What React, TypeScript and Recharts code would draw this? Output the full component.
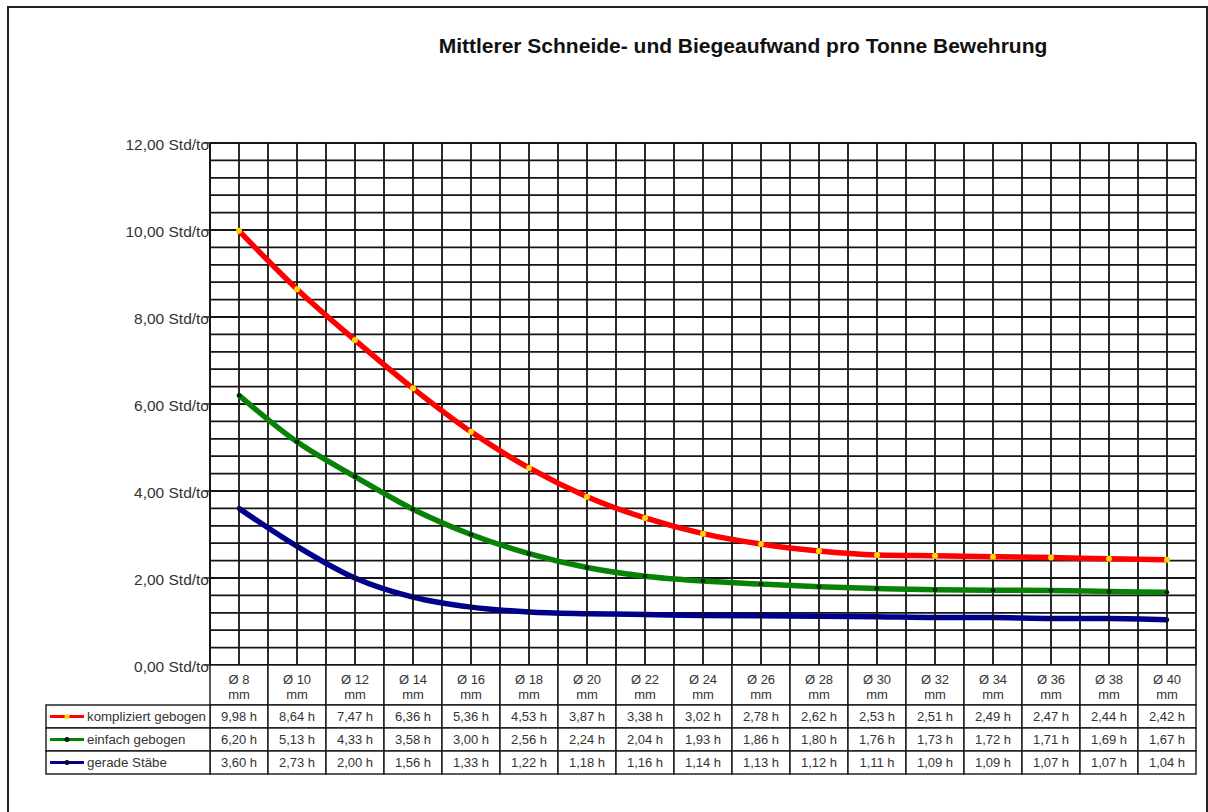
import React from "react";
import { LineChart, Line, XAxis, YAxis, CartesianGrid } from "recharts";

const categories = ["Ø 8", "Ø 10", "Ø 12", "Ø 14", "Ø 16", "Ø 18", "Ø 20", "Ø 22", "Ø 24", "Ø 26", "Ø 28", "Ø 30", "Ø 32", "Ø 34", "Ø 36", "Ø 38", "Ø 40"];
const kompliziert = [9.98, 8.64, 7.47, 6.36, 5.36, 4.53, 3.87, 3.38, 3.02, 2.78, 2.62, 2.53, 2.51, 2.49, 2.47, 2.44, 2.42];
const einfach = [6.2, 5.13, 4.33, 3.58, 3.0, 2.56, 2.24, 2.04, 1.93, 1.86, 1.8, 1.76, 1.73, 1.72, 1.71, 1.69, 1.67];
const gerade = [3.6, 2.73, 2.0, 1.56, 1.33, 1.22, 1.18, 1.16, 1.14, 1.13, 1.12, 1.11, 1.09, 1.09, 1.07, 1.07, 1.04];
const yTickLabels = ["0,00 Std/to", "2,00 Std/to", "4,00 Std/to", "6,00 Std/to", "8,00 Std/to", "10,00 Std/to", "12,00 Std/to"];
const seriesNames = ["kompliziert gebogen", "einfach gebogen", "gerade Stäbe"];
const unitLabel = "mm";
const title = "Mittlerer Schneide- und Biegeaufwand pro Tonne Bewehrung";

const seriesValues = [kompliziert, einfach, gerade];
const seriesColors = ["#ff0000", "#078207", "#00008a"];
const dotColors = ["#ffd800", "#0b1f0b", "#0a0a30"];

const data = categories.map((c, i) => ({
  i,
  cat: c,
  k: kompliziert[i],
  e: einfach[i],
  g: gerade[i],
}));

const FONT = "'Liberation Sans', Arial, sans-serif";
const PLOT_LEFT = 210;
const PLOT_RIGHT = 1196;
const PLOT_TOP = 143;
const PLOT_BOTTOM = 665;
const COL_W = (PLOT_RIGHT - PLOT_LEFT) / categories.length;
const HEADER_H = 40;
const ROW_H = 23;
const LEGEND_LEFT = 46;
const LINE_C = "#151515";

const xTicks: number[] = [];
for (let k = -1; k <= categories.length * 2 - 1; k++) xTicks.push(k / 2);
const yTicks: number[] = [];
for (let k = 0; k <= 30; k++) yTicks.push(Math.round(k * 4) / 10);

const fmt = (v: number) => v.toFixed(2).replace(".", ",") + " h";

function XTick(props: any) {
  const { x, payload } = props;
  const v = payload.value;
  if (Math.abs(v - Math.round(v)) > 1e-6 || v < 0) return <g />;
  const i = Math.round(v);
  const left = x - COL_W / 2;
  const top = PLOT_BOTTOM;
  const cells = [];
  cells.push(
    <rect key="h" x={left} y={top} width={COL_W} height={HEADER_H} fill="#fff" stroke={LINE_C} strokeWidth={1.4} />
  );
  cells.push(
    <text key="ht1" x={x} y={top + 14} textAnchor="middle" dominantBaseline="central" fontSize={13} fill="#333" fontFamily={FONT}>
      {categories[i]}
    </text>
  );
  cells.push(
    <text key="ht2" x={x} y={top + 29} textAnchor="middle" dominantBaseline="central" fontSize={13} fill="#333" fontFamily={FONT}>
      {unitLabel}
    </text>
  );
  seriesValues.forEach((arr, r) => {
    const ry = top + HEADER_H + r * ROW_H;
    cells.push(
      <rect key={"r" + r} x={left} y={ry} width={COL_W} height={ROW_H} fill="#fff" stroke={LINE_C} strokeWidth={1.4} />
    );
    cells.push(
      <text key={"t" + r} x={x} y={ry + ROW_H / 2} textAnchor="middle" dominantBaseline="central" fontSize={13} fill="#333" fontFamily={FONT}>
        {fmt(arr[i])}
      </text>
    );
  });
  if (i === 0) {
    seriesNames.forEach((name, r) => {
      const ry = top + HEADER_H + r * ROW_H;
      const cy = ry + ROW_H / 2;
      cells.push(
        <rect key={"l" + r} x={LEGEND_LEFT} y={ry} width={left - LEGEND_LEFT} height={ROW_H} fill="#fff" stroke={LINE_C} strokeWidth={1.4} />
      );
      cells.push(
        <line key={"ll" + r} x1={LEGEND_LEFT + 4} x2={LEGEND_LEFT + 38} y1={cy} y2={cy} stroke={seriesColors[r]} strokeWidth={3} />
      );
      cells.push(<circle key={"lc" + r} cx={LEGEND_LEFT + 21} cy={cy} r={2.5} fill={dotColors[r]} />);
      cells.push(
        <text key={"lt" + r} x={LEGEND_LEFT + 41} y={cy} dominantBaseline="central" fontSize={13.3} fill="#333" fontFamily={FONT}>
          {name}
        </text>
      );
    });
  }
  return <g>{cells}</g>;
}

function YTick(props: any) {
  const { y, payload } = props;
  const v = payload.value;
  const idx = v / 2;
  if (Math.abs(idx - Math.round(idx)) > 1e-6) return <g />;
  return (
    <g>
      <line x1={PLOT_LEFT - 6} x2={PLOT_LEFT} y1={y} y2={y} stroke={LINE_C} strokeWidth={1.4} />
      <text x={PLOT_LEFT - 1} y={y + 1} textAnchor="end" dominantBaseline="central" fontSize={15.5} fill="#333" fontFamily={FONT}>
        {yTickLabels[Math.round(idx)]}
      </text>
    </g>
  );
}

const makeDot = (fill: string, r: number, stroke?: string) => (p: any) => (
  <circle key={p.index} cx={p.cx} cy={p.cy} r={r} fill={fill} stroke={stroke || "none"} strokeWidth={0.8} />
);

export default function App() {
  const yAxisW = 160;
  const xAxisH = 110;
  return (
    <div style={{ position: "absolute", left: 0, top: 0, width: 1208, height: 812, overflow: "hidden", background: "#fff" }}>
      <div
        style={{
          position: "absolute",
          left: 7,
          top: 6,
          width: 1201,
          height: 830,
          border: "2px solid #222",
          boxSizing: "border-box",
        }}
      />
      <div
        style={{
          position: "absolute",
          left: 343,
          width: 800,
          top: 34,
          textAlign: "center",
          fontFamily: FONT,
          fontWeight: "bold",
          fontSize: 21,
          color: "#111",
        }}
      >
        {title}
      </div>
      <div style={{ position: "absolute", left: 0, top: 0 }}>
        <LineChart
          width={1208}
          height={812}
          data={data}
          margin={{ top: PLOT_TOP, left: PLOT_LEFT - yAxisW, right: 1208 - PLOT_RIGHT, bottom: 812 - PLOT_BOTTOM - xAxisH }}
        >
          <CartesianGrid stroke={LINE_C} strokeWidth={1.8} />
          <XAxis
            dataKey="i"
            type="number"
            domain={[-0.5, categories.length - 0.5]}
            ticks={xTicks}
            interval={0}
            height={xAxisH}
            tick={<XTick />}
            tickLine={false}
            axisLine={{ stroke: LINE_C, strokeWidth: 1.8 }}
            allowDecimals
          />
          <YAxis
            type="number"
            domain={[0, 12]}
            ticks={yTicks}
            interval={0}
            width={yAxisW}
            tick={<YTick />}
            tickLine={false}
            axisLine={{ stroke: LINE_C, strokeWidth: 1.8 }}
          />
          <Line type="monotone" dataKey="g" stroke={seriesColors[2]} strokeWidth={5.5} dot={makeDot(dotColors[2], 2.3)} isAnimationActive={false} />
          <Line type="monotone" dataKey="e" stroke={seriesColors[1]} strokeWidth={5.5} dot={makeDot(dotColors[1], 2.3)} isAnimationActive={false} />
          <Line type="monotone" dataKey="k" stroke={seriesColors[0]} strokeWidth={5.5} dot={makeDot(dotColors[0], 3)} isAnimationActive={false} />
        </LineChart>
      </div>
    </div>
  );
}
